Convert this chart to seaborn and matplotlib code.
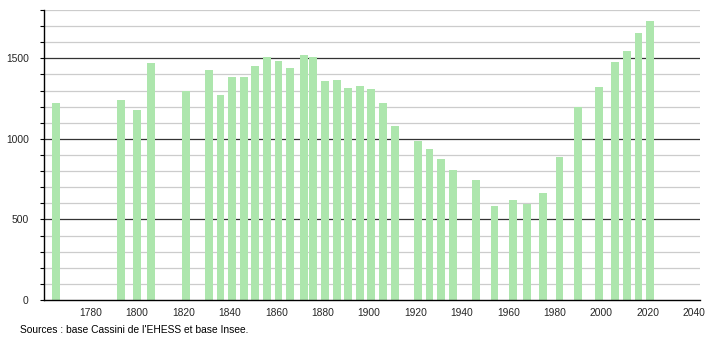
import matplotlib
matplotlib.use("Agg")
import matplotlib.pyplot as plt
import seaborn as sns
import pandas as pd
from matplotlib.ticker import MultipleLocator

years = [1765, 1793, 1800, 1806, 1821, 1831, 1836, 1841, 1846, 1851, 1856, 1861,
         1866, 1872, 1876, 1881, 1886, 1891, 1896, 1901, 1906, 1911, 1921, 1926,
         1931, 1936, 1946, 1954, 1962, 1968, 1975, 1982, 1990, 1999, 2006, 2011,
         2016, 2021]
population = [1220, 1239, 1177, 1474, 1297, 1426, 1270, 1384, 1387, 1451, 1511, 1482,
              1438, 1519, 1507, 1357, 1366, 1314, 1326, 1308, 1220, 1083, 988, 940,
              878, 809, 747, 585, 623, 596, 666, 890, 1197, 1322, 1476, 1544,
              1656, 1729]
y_ticks = [0, 500, 1000, 1500]
x_ticks = [1780, 1800, 1820, 1840, 1860, 1880, 1900, 1920, 1940, 1960, 1980, 2000, 2020, 2040]
source_text = "Sources : base Cassini de l'EHESS et base Insee."

df = pd.DataFrame({"year": years, "population": population})

sns.set_style("white")
plt.rcParams["font.family"] = ["Liberation Sans", "DejaVu Sans"]

fig = plt.figure(figsize=(7.1, 3.4), dpi=100)
ax = fig.add_axes([44 / 710, 40 / 340, 656 / 710, 290 / 340])

# gridlines
for v in range(100, 1801, 100):
    if v % 500 == 0:
        ax.axhline(v, color="#333333", lw=0.9, zorder=0)
    else:
        ax.axhline(v, color="#cccccc", lw=0.9, zorder=0)

sns.barplot(data=df, x="year", y="population", native_scale=True, width=0.85,
            color="#ade6ad", saturation=1, ax=ax, zorder=2, errorbar=None,
            linewidth=0, edgecolor="none")

ax.set_xlim(1760, 2042.5)
ax.set_ylim(0, 1800)
ax.set_xticks(x_ticks)
ax.set_xticklabels([str(t) for t in x_ticks])
ax.set_yticks(y_ticks)
ax.set_yticklabels([str(t) for t in y_ticks])
ax.yaxis.set_minor_locator(MultipleLocator(100))
ax.tick_params(axis="y", which="both", left=True, length=3, width=0.8, color="black",
               labelsize=7.4, pad=8)
ax.tick_params(axis="x", which="both", bottom=False, labelsize=7.4, pad=2)
ax.set_xlabel("")
ax.set_ylabel("")
for s in ["top", "right"]:
    ax.spines[s].set_visible(False)
for s in ["left", "bottom"]:
    ax.spines[s].set_color("black")
    ax.spines[s].set_linewidth(1.0)
    ax.spines[s].set_zorder(3)

fig.text(20 / 710, 1 - 330 / 340, source_text, fontsize=7.4, va="center", ha="left",
         color="black")

fig.savefig("out.png", dpi=100)
